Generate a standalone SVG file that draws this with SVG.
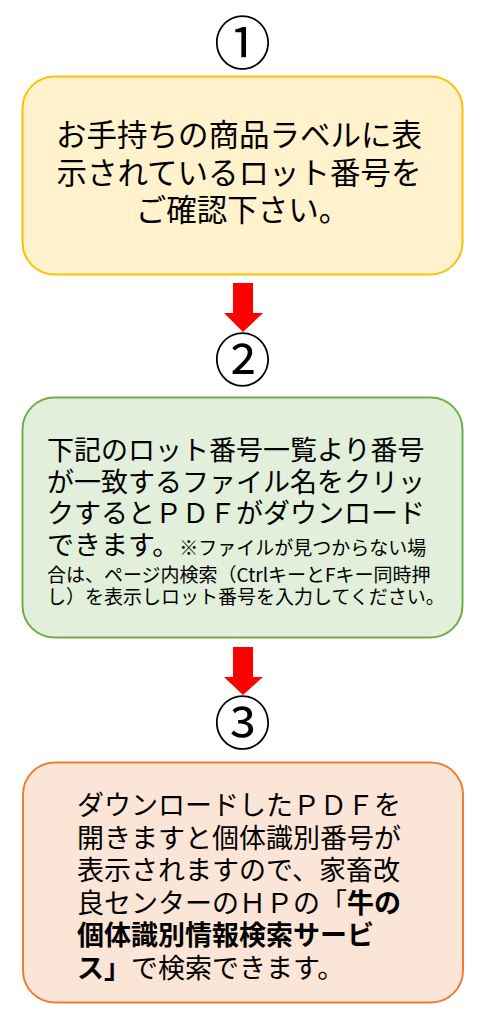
<svg xmlns="http://www.w3.org/2000/svg" width="492" height="1024" viewBox="0 0 492 1024">
<style>
.t{font-family:"Noto Sans CJK JP","Noto Sans",sans-serif;fill:#000;}
.num{font-family:"Noto Sans CJK JP","DejaVu Sans",sans-serif;font-size:57px;text-anchor:middle;fill:#000;}
.b{font-weight:bold;}
.arr{fill:#FF0000;}
</style>
<rect width="492" height="1024" fill="#FFFFFF"/>
<g id="label1"><text class="num" x="242.5" y="64">①</text></g>
<g id="step1">
<rect x="22.5" y="76.5" width="440" height="198" rx="32" ry="32" fill="#FFF2CC" stroke="#FFC000" stroke-width="2"/>
<text class="t" font-size="30.5" text-anchor="middle">
<tspan x="242.5" y="146">お手持ちの商品ラベルに表</tspan>
<tspan x="242.5" y="183.5">示されているロット番号を</tspan>
<tspan x="242.5" y="221">ご確認下さい。</tspan>
</text>
</g>
<g id="label2"><text class="num" x="242.5" y="381">②</text></g>
<g id="step2">
<rect x="22.5" y="397.5" width="440" height="240" rx="32" ry="32" fill="#E2EFDA" stroke="#70AD47" stroke-width="2"/>
<text class="t" font-size="27">
<tspan x="47" y="460">下記のロット番号一覧より番号</tspan>
<tspan x="47" y="491.5">が一致するファイル名をクリッ</tspan>
<tspan x="47" y="523">クするとＰＤＦがダウンロード</tspan>
<tspan x="47" y="555">できます。<tspan font-size="19">※ファイルが見つからない場</tspan></tspan>
</text>
<text class="t" font-size="19">
<tspan x="47" y="581.5">合は、ページ内検索（CtrlキーとFキー同時押</tspan>
<tspan x="47" y="603.5">し）を表示しロット番号を入力してください。</tspan>
</text>
</g>
<g id="label3"><text class="num" x="242.5" y="744">③</text></g>
<g id="step3">
<rect x="23" y="762.5" width="440" height="240" rx="32" ry="32" fill="#FBE5D6" stroke="#ED7D31" stroke-width="2"/>
<text class="t" font-size="27">
<tspan x="77" y="815">ダウンロードしたＰＤＦを</tspan>
<tspan x="77" y="848">開きますと個体識別番号が</tspan>
<tspan x="77" y="880">表示されますので、家畜改</tspan>
<tspan x="77" y="913">良センターのＨＰの「<tspan class="b">牛の</tspan></tspan>
<tspan x="77" y="945" class="b">個体識別情報検索サービ</tspan>
<tspan x="77" y="978"><tspan class="b">ス」</tspan>で検索できます。</tspan>
</text>
</g>
<g id="connectors">
<polygon class="arr" points="233,283 253,283 253,313 263,313 243,332 224,313 233,313"/>
<polygon class="arr" points="233,647 253,647 253,677 263,677 243,695 224,677 233,677"/>
</g>
</svg>
